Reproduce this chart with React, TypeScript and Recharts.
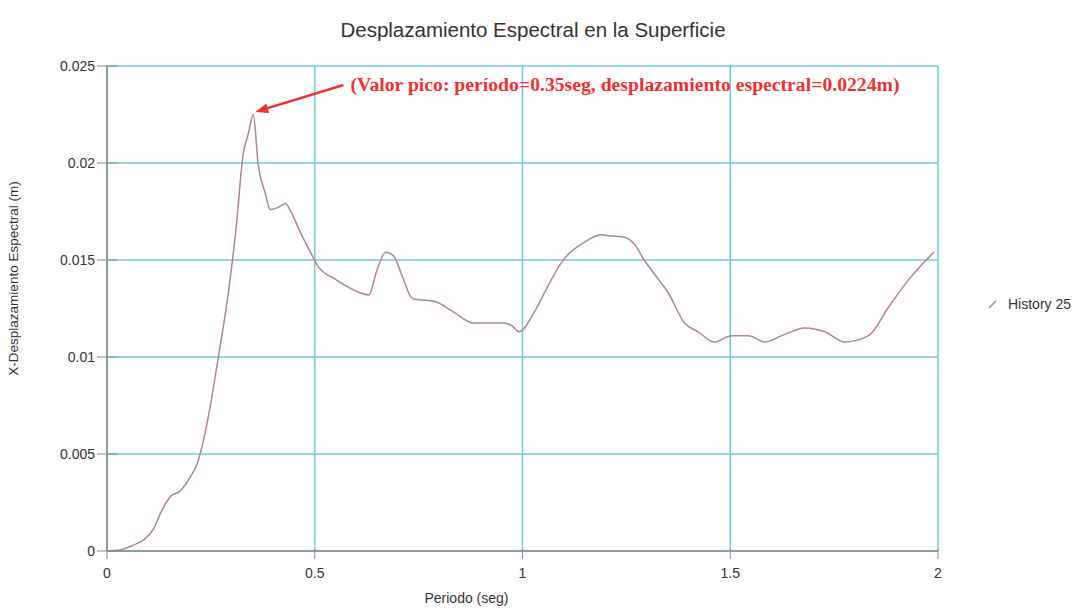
import { LineChart, Line, XAxis, YAxis, CartesianGrid, Legend, ReferenceLine, ReferenceDot } from 'recharts';

const PERIOD = [
  0, 0.03, 0.063, 0.09, 0.111, 0.13, 0.152, 0.176, 0.2, 0.217, 0.23, 0.248, 0.268, 0.29, 0.31, 0.328, 0.34, 0.352,
  0.364, 0.38, 0.393, 0.41, 0.43, 0.44, 0.466, 0.497, 0.507, 0.55, 0.594, 0.63, 0.65, 0.671, 0.69, 0.71, 0.736,
  0.791, 0.835, 0.883, 0.955, 0.975, 0.992, 1.028, 1.06, 1.093, 1.148, 1.19, 1.206, 1.24, 1.27, 1.293, 1.32, 1.351,
  1.39, 1.423, 1.462, 1.503, 1.544, 1.583, 1.624, 1.679, 1.728, 1.776, 1.833, 1.882, 1.93, 1.99,
];
const DISPLACEMENT = [
  0, 0.00005, 0.0003, 0.0006, 0.0011, 0.002, 0.0028, 0.0031, 0.0038, 0.0045, 0.0055, 0.0074, 0.01, 0.013, 0.0165,
  0.0205, 0.0215, 0.0225, 0.0199, 0.0185, 0.0176, 0.0177, 0.0179, 0.0176, 0.0164, 0.0151, 0.0147, 0.014, 0.01345,
  0.0132, 0.0145, 0.0154, 0.0152, 0.0142, 0.013, 0.01285, 0.0123, 0.01175, 0.01175, 0.0116, 0.0113, 0.0123, 0.0136,
  0.01485, 0.0159, 0.0163, 0.01625, 0.0162, 0.0158, 0.015, 0.0142, 0.0133, 0.01175, 0.0113, 0.01077, 0.0111, 0.0111,
  0.01077, 0.0111, 0.0115, 0.0113, 0.01077, 0.0111, 0.0126, 0.014, 0.0154,
];
const X_TICKS = [0, 0.5, 1, 1.5, 2];
const Y_TICKS = [0, 0.005, 0.01, 0.015, 0.02, 0.025];
const SERIES = 'History 25';
const PEAK_NOTE = '(Valor pico: período=0.35seg, desplazamiento espectral=0.0224m)';

const data = PERIOD.map((p, i) => ({ p, d: DISPLACEMENT[i] }));

const GRID = '#72c8dc';
const AXIS = '#8a8a8a';
const LINE = '#b4838b';
const FONT = '"Liberation Sans", Arial, sans-serif';

const YTick = (props: any) => {
  const { x, y, payload } = props;
  return (
    <g>
      <line x1={x - 2} x2={x + 18} y1={y} y2={y} stroke={AXIS} />
      <text x={x - 4} y={y} dy={5} textAnchor="end" fontSize={14} fill="#333" fontFamily={FONT}>
        {String(payload.value)}
      </text>
    </g>
  );
};

const XTick = (props: any) => {
  const { x, y, payload } = props;
  return (
    <g>
      <line x1={x} x2={x} y1={y} y2={y - 10} stroke={AXIS} />
      <text x={x} y={y + 19} textAnchor="middle" fontSize={14} fill="#333" fontFamily={FONT}>
        {String(payload.value)}
      </text>
    </g>
  );
};

const Arrow = (props: any) => {
  const { x1, y1, x2, y2 } = props;
  const ang = Math.atan2(y2 - y1, x2 - x1);
  const len = 13;
  const w = 5;
  const bx = x2 - len * Math.cos(ang);
  const by = y2 - len * Math.sin(ang);
  const px = -Math.sin(ang) * w;
  const py = Math.cos(ang) * w;
  return (
    <g>
      <line x1={x1} y1={y1} x2={bx} y2={by} stroke="#f0302f" strokeWidth={2.5} />
      <polygon points={`${x2},${y2} ${bx + px},${by + py} ${bx - px},${by - py}`} fill="#f0302f" />
    </g>
  );
};

const LegendBox = () => (
  <div style={{ display: 'flex', alignItems: 'center', fontFamily: FONT, fontSize: 14, color: '#333', width: 100 }}>
    <svg width={14} height={12} style={{ marginRight: 8 }}>
      <line x1={3} y1={10} x2={10} y2={3} stroke={LINE} strokeWidth={1.5} />
    </svg>
    {SERIES}
  </div>
);

export default function App() {
  return (
    <div style={{ margin: -8, position: 'relative', width: 1088, height: 615, background: '#fff', overflow: 'hidden' }}>
      <div
        style={{
          position: 'absolute', top: 18, left: 0, width: 1066, textAlign: 'center',
          fontFamily: FONT, fontSize: 20.5, color: '#333',
        }}
      >
        Desplazamiento Espectral en la Superficie
      </div>
      <LineChart width={1088} height={615} data={data} margin={{ top: 66, right: 50, bottom: 9, left: 47 }}>
        <CartesianGrid stroke={GRID} strokeWidth={1.5} />
        <XAxis
          dataKey="p" type="number" domain={[0, 2]} ticks={X_TICKS} stroke={AXIS} strokeWidth={1.5}
          tickLine={false} tick={<XTick />} height={55}
          label={{ value: 'Periodo (seg)', position: 'insideBottom', offset: 0, dx: -56, dy: -3, fontSize: 14, fill: '#333', fontFamily: FONT }}
        />
        <YAxis
          type="number" domain={[0, 0.025]} ticks={Y_TICKS} stroke={AXIS} strokeWidth={1.5}
          tickLine={false} tick={<YTick />} width={60}
          label={{ value: 'X-Desplazamiento Espectral (m)', angle: -90, position: 'insideLeft', offset: -34, dy: -30, fontSize: 13.5, fill: '#333', fontFamily: FONT, style: { textAnchor: 'middle' } }}
        />
        <Legend layout="vertical" align="right" verticalAlign="middle" content={<LegendBox />} wrapperStyle={{ right: 2, width: 100, marginTop: -4 }} />
        <ReferenceLine
          segment={[{ x: 0.569, y: 0.02402 }, { x: 0.357, y: 0.02263 }]}
          shape={<Arrow />}
          ifOverflow="visible"
        />
        <ReferenceDot
          x={0.586} y={0.02407} r={0} ifOverflow="visible"
          label={{ value: PEAK_NOTE, position: 'right', offset: 0, fill: '#f0302f', fontSize: 19.7, fontWeight: 'bold', fontFamily: '"Liberation Serif", "Times New Roman", serif' }}
        />
        <Line type="monotone" dataKey="d" name={SERIES} stroke={LINE} strokeWidth={1.5} dot={false} isAnimationActive={false} />
      </LineChart>
    </div>
  );
}
